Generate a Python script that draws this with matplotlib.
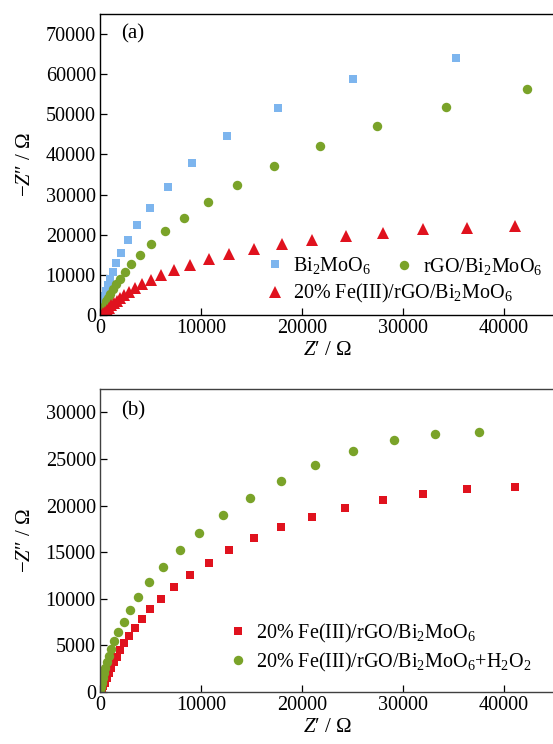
import matplotlib
matplotlib.use("Agg")
import matplotlib.pyplot as plt
from matplotlib.lines import Line2D
from matplotlib.legend import Legend

plt.rcParams['font.family'] = ['Liberation Serif', 'DejaVu Serif']
plt.rcParams['mathtext.fontset'] = 'custom'
plt.rcParams['mathtext.rm'] = 'Liberation Serif'
plt.rcParams['mathtext.it'] = 'Liberation Serif:italic'

# panel (a) data
bi_x = [20, 50, 100, 200, 300, 450, 600, 800, 1000, 1290, 1620, 2110, 2740,
        3660, 4950, 6700, 9140, 12600, 17650, 25050, 35220]
bi_y = [100, 500, 1300, 2400, 3500, 4800, 6000, 7500, 9000, 10750, 12980,
        15560, 18600, 22330, 26700, 31840, 37800, 44500, 51700, 58800, 64000]

rgo_x = [20, 80, 180, 300, 450, 600, 800, 1000, 1250, 1550, 1950, 2480, 3100,
         3930, 5050, 6470, 8320, 10660, 13560, 17230, 21780, 27390, 34260, 42310]
rgo_y = [100, 500, 1100, 1800, 2600, 3400, 4300, 5300, 6400, 7600, 9010,
         10670, 12660, 14970, 17620, 20840, 24240, 28120, 32420, 37150, 42000,
         47070, 51940, 56250]

fe_x = [150, 300, 450, 650, 850, 1100, 1350, 1650, 2000, 2400, 2900, 3470,
        4160, 5020, 6070, 7330, 8940, 10790, 12810, 15220, 17990, 20960, 24360,
        28020, 32010, 36340, 41090]
fe_y = [100, 400, 800, 1300, 1800, 2400, 3000, 3600, 4300, 5000, 5800, 6700,
        7690, 8770, 9930, 11170, 12410, 13900, 15140, 16460, 17620, 18780,
        19780, 20520, 21340, 21760, 22080]

# panel (b) data
feb_x = [100, 200, 330, 480, 650, 850, 1100, 1350, 1650, 2000, 2380, 2840,
         3430, 4120, 4950, 6010, 7330, 8910, 10760, 12810, 15220, 17920, 20960,
         24290, 27990, 31980, 36340, 41090]
feb_y = [50, 250, 600, 1000, 1500, 2000, 2600, 3200, 3800, 4500, 5220, 6010,
         6870, 7830, 8870, 9980, 11230, 12550, 13880, 15240, 16520, 17700,
         18780, 19740, 20600, 21280, 21780, 22030]

h2o2_x = [10, 30, 90, 170, 260, 380, 500, 650, 850, 1090, 1420, 1810, 2340,
          2970, 3790, 4880, 6240, 7920, 9830, 12150, 14820, 17890, 21250,
          25020, 29080, 33200, 37490]
h2o2_y = [50, 200, 550, 1000, 1500, 2000, 2600, 3200, 3900, 4650, 5470, 6440,
          7540, 8770, 10190, 11770, 13450, 15240, 17100, 18960, 20820, 22640,
          24360, 25890, 27040, 27680, 27930]

blue = '#7DB5EE'
green = '#7AA329'
red = '#E0121E'

W, H = 553, 744
fig = plt.figure(figsize=(W / 100, H / 100), dpi=100)


def make_axes(left, top, right, bottom):
    return fig.add_axes([left / W, 1 - bottom / H, (right - left) / W, (bottom - top) / H])


def style(ax, ylim, yticks, label, ly, spine_color):
    ax.set_xlim(0, 45000)
    ax.set_ylim(*ylim)
    ax.set_xticks([0, 10000, 20000, 30000, 40000])
    ax.set_yticks(yticks)
    ax.tick_params(direction='in', length=5, width=0.9, labelsize=14.5,
                   top=False, right=False, pad=3, colors='black')
    for s in ax.spines.values():
        s.set_linewidth(1.0)
        s.set_color(spine_color)
    ax.set_xlabel(r'$Z$′ / Ω', fontsize=15, labelpad=2)
    ax.set_ylabel(r'$-Z$″ / Ω', fontsize=15, labelpad=8)
    ax.text(0.046, ly, label, transform=ax.transAxes, fontsize=15, va='center', ha='left')


def entry(ax, marker, color, size, text, x, y):
    # one legend row per entry, placed by hand like the original figure
    h = Line2D([], [], ls='none', marker=marker, color=color, markersize=size,
               markeredgewidth=0)
    lg = Legend(ax, [h], [text], loc='center left', bbox_to_anchor=(x, y),
                frameon=False, borderpad=0, borderaxespad=0, handlelength=0.8,
                handletextpad=0.5, fontsize=14.5)
    ax.add_artist(lg)


# panel (a)
ax1 = make_axes(100, 14, 554.5, 315)
ax1.plot(bi_x, bi_y, 's', color=blue, markersize=6.3, markeredgewidth=0, ls='none')
ax1.plot(rgo_x, rgo_y, 'o', color=green, markersize=6.8, markeredgewidth=0, ls='none')
ax1.plot(fe_x, fe_y, '^', color=red, markersize=8, markeredgewidth=0, ls='none')
style(ax1, (0, 75000), range(0, 70001, 10000), '(a)', 0.935, 'black')
entry(ax1, 's', blue, 6.3, r'Bi$_2$MoO$_6$', 0.368, 0.163)
entry(ax1, 'o', green, 6.8, r'rGO/Bi$_2$MoO$_6$', 0.652, 0.160)
entry(ax1, '^', red, 8, r'20% Fe(III)/rGO/Bi$_2$MoO$_6$', 0.368, 0.070)

# panel (b)
ax2 = make_axes(100, 389, 554.5, 692)
ax2.plot(feb_x, feb_y, 's', color=red, markersize=6.3, markeredgewidth=0, ls='none')
ax2.plot(h2o2_x, h2o2_y, 'o', color=green, markersize=6.8, markeredgewidth=0, ls='none')
style(ax2, (0, 32500), range(0, 30001, 5000), '(b)', 0.927, '#404040')
entry(ax2, 's', red, 6.3, r'20% Fe(III)/rGO/Bi$_2$MoO$_6$', 0.286, 0.194)
entry(ax2, 'o', green, 6.8, r'20% Fe(III)/rGO/Bi$_2$MoO$_6$+H$_2$O$_2$', 0.286, 0.099)

fig.savefig('out.png', dpi=100)
